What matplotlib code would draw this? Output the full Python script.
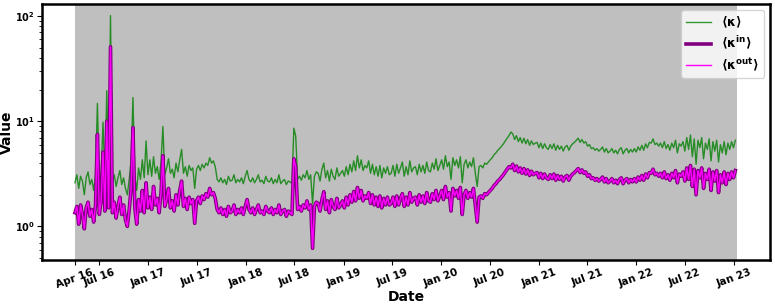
import matplotlib
matplotlib.use('Agg')
import matplotlib.pyplot as plt
import matplotlib.dates as mdates
import pandas as pd

plt.rcParams['font.weight'] = 'bold'
plt.rcParams['mathtext.default'] = 'bf'

start_date = '2016-04-01'

# weekly mean degree <k>
k_all = [
    2.6, 3.1, 2.3, 3.0, 2.7, 2.0, 2.9, 3.3, 2.5, 2.8, 2.2, 3.1, 14.8,
    2.6, 3.2, 9.8, 2.8, 19.5, 2.9, 101.0, 2.7, 3.1, 2.4, 2.9, 3.4, 2.5,
    2.9, 2.3, 2.0, 2.8, 4.2, 16.8, 3.0, 2.2, 3.6, 2.8, 4.3, 2.9, 6.5,
    3.1, 4.3, 3.0, 4.6, 3.2, 3.7, 2.8, 4.1, 8.9, 3.1, 3.6, 4.4, 3.2,
    3.5, 2.9, 4.0, 3.3, 4.3, 5.4, 3.2, 3.7, 3.0, 3.8, 3.4, 3.6, 2.3,
    3.5, 3.8, 3.4, 3.9, 3.6, 4.0, 3.8, 4.5, 4.0, 4.2, 3.7, 2.8, 2.65,
    2.9, 2.6, 2.8, 2.5, 3.0, 2.7, 2.75, 3.1, 2.6, 2.8, 2.65, 2.9, 2.55,
    3.0, 3.4, 2.8, 2.65, 2.9, 2.6, 2.8, 3.1, 2.65, 2.75, 2.55, 3.0, 2.7,
    2.65, 2.9, 2.55, 2.8, 2.6, 3.1, 2.55, 2.7, 2.8, 2.5, 2.7, 2.65, 2.55,
    8.6, 7.2, 2.8, 3.0, 2.75, 3.1, 2.9, 3.4, 2.8, 3.1, 1.65, 3.0, 3.3,
    3.2, 2.7, 3.5, 4.0, 2.9, 3.4, 2.7, 3.5, 3.0, 2.8, 3.6, 3.0, 3.2,
    3.4, 3.0, 3.7, 3.1, 3.9, 3.3, 4.2, 3.4, 4.7, 3.6, 4.3, 3.4, 3.8,
    3.6, 4.2, 3.2, 3.9, 3.1, 3.7, 3.0, 3.8, 2.9, 3.6, 3.2, 3.7, 3.1,
    3.2, 3.8, 3.0, 3.9, 3.2, 3.6, 4.1, 3.0, 3.7, 3.1, 4.2, 3.3, 3.6,
    3.7, 3.1, 3.9, 3.3, 3.8, 3.2, 4.1, 3.4, 3.3, 4.0, 3.5, 4.4, 3.4,
    3.8, 4.3, 3.5, 4.7, 3.7, 4.1, 2.8, 4.5, 3.8, 4.3, 3.6, 4.6, 2.6,
    3.9, 4.3, 3.6, 4.1, 3.7, 4.5, 3.2, 2.4, 3.7, 3.8, 3.6, 4.0, 3.9,
    4.1, 4.3, 4.5, 4.8, 5.0, 5.3, 5.5, 5.8, 6.1, 6.5, 6.9, 7.3, 7.9,
    7.6, 6.7, 7.3, 6.4, 7.0, 6.2, 6.9, 6.1, 6.7, 5.9, 6.5, 6.0, 6.2,
    6.3, 5.6, 6.2, 5.5, 6.1, 5.6, 5.4, 6.0, 5.5, 6.1, 5.3, 5.9, 5.4,
    5.8, 5.2, 5.7, 5.9, 5.3, 5.8, 6.1, 6.3, 6.6, 6.9, 6.3, 6.7, 6.2,
    6.4, 5.8, 6.0, 5.5, 5.6, 5.3, 5.5, 5.2, 5.4, 5.7, 5.1, 5.5, 5.0,
    5.2, 5.5, 5.0, 5.3, 4.9, 5.4, 5.6, 4.9, 5.3, 5.5, 5.0, 5.4, 5.1,
    5.5, 5.1, 5.7, 5.3, 5.9, 5.3, 6.1, 5.6, 6.3, 6.2, 6.8, 6.0, 6.2,
    5.8, 6.2, 5.6, 6.4, 5.5, 6.0, 5.3, 6.2, 5.6, 6.6, 5.0, 6.1, 5.8,
    6.4, 5.2, 7.0, 5.4, 7.4, 4.6, 6.8, 3.9, 6.6, 5.6, 7.0, 4.4, 6.2,
    5.4, 6.8, 4.2, 6.4, 5.2, 6.6, 4.1, 6.0, 5.0, 6.4, 4.8, 6.2, 5.4,
    6.4, 5.6, 6.6,
]

# weekly mean in-degree <k_in>
k_in = [
    1.35, 1.55, 1.05, 1.6, 1.3, 0.95, 1.5, 1.7, 1.25, 1.45, 1.1, 1.6, 7.5,
    1.3, 1.75, 5.1, 1.4, 10.0, 1.5, 51.0, 1.35, 1.7, 1.2, 1.55, 1.9, 1.3,
    1.6, 1.15, 1.0, 1.45, 2.3, 8.7, 1.5, 1.05, 1.8, 1.4, 2.2, 1.35, 2.6,
    1.5, 1.9, 1.45, 2.4, 1.6, 1.85, 1.35, 2.1, 4.7, 1.55, 1.8, 2.3, 1.5,
    1.75, 1.4, 2.0, 1.6, 2.2, 2.7, 1.55, 1.85, 1.45, 1.9, 1.65, 1.8, 1.07,
    1.75, 1.9, 1.65, 1.95, 1.8, 2.05, 1.9, 2.3, 2.0, 2.1, 1.85, 1.45, 1.35,
    1.5, 1.3, 1.45, 1.25, 1.55, 1.35, 1.4, 1.6, 1.3, 1.45, 1.35, 1.5, 1.3,
    1.55, 1.8, 1.45, 1.35, 1.5, 1.3, 1.45, 1.6, 1.35, 1.4, 1.3, 1.55, 1.4,
    1.35, 1.5, 1.3, 1.45, 1.35, 1.6, 1.3, 1.4, 1.45, 1.25, 1.4, 1.35, 1.3,
    4.4, 3.7, 1.45, 1.55, 1.4, 1.6, 1.5, 1.75, 1.45, 1.6, 0.62, 1.55, 1.7,
    1.65, 1.4, 1.8, 2.14, 1.45, 1.75, 1.35, 1.8, 1.55, 1.45, 1.85, 1.5, 1.6,
    1.75, 1.5, 1.9, 1.6, 2.0, 1.7, 2.15, 1.75, 2.35, 1.85, 2.2, 1.75, 1.95,
    1.85, 2.1, 1.65, 2.0, 1.6, 1.9, 1.55, 1.95, 1.5, 1.85, 1.6, 1.9, 1.6,
    1.65, 1.9, 1.55, 1.95, 1.6, 1.85, 2.05, 1.55, 1.9, 1.6, 2.1, 1.7, 1.85,
    1.9, 1.6, 2.0, 1.7, 1.95, 1.65, 2.1, 1.75, 1.7, 2.05, 1.8, 2.2, 1.75,
    1.95, 2.2, 1.8, 2.4, 1.9, 2.1, 1.4, 2.3, 1.95, 2.2, 1.85, 2.35, 1.3,
    2.0, 2.2, 1.85, 2.1, 1.9, 2.3, 1.6, 1.1, 1.9, 1.95, 1.85, 2.05, 2.0,
    2.1, 2.2, 2.3, 2.45, 2.55, 2.7, 2.8, 2.95, 3.1, 3.3, 3.5, 3.7, 3.6,
    3.9, 3.4, 3.75, 3.3, 3.6, 3.2, 3.55, 3.15, 3.45, 3.05, 3.35, 3.1, 3.2,
    3.25, 2.9, 3.2, 2.85, 3.15, 2.9, 2.8, 3.1, 2.85, 3.15, 2.75, 3.05, 2.8,
    3.0, 2.7, 2.95, 3.05, 2.75, 3.0, 3.15, 3.25, 3.4, 3.55, 3.25, 3.45, 3.2,
    3.3, 3.0, 3.1, 2.85, 2.9, 2.75, 2.85, 2.7, 2.8, 2.95, 2.65, 2.85, 2.6,
    2.7, 2.85, 2.6, 2.75, 2.55, 2.8, 2.9, 2.55, 2.75, 2.85, 2.6, 2.8, 2.65,
    2.85, 2.65, 2.95, 2.75, 3.05, 2.75, 3.15, 2.9, 3.25, 3.2, 3.5, 3.1, 3.2,
    3.0, 3.2, 2.9, 3.3, 2.85, 3.1, 2.75, 3.2, 2.9, 3.4, 2.6, 3.15, 3.0,
    3.3, 2.7, 3.6, 2.8, 3.8, 2.4, 3.5, 2.0, 3.4, 2.9, 3.6, 2.3, 3.2,
    2.8, 3.5, 2.2, 3.3, 2.7, 3.4, 2.1, 3.1, 2.6, 3.3, 2.5, 3.2, 2.8,
    3.3, 2.9, 3.4,
]

# out-degree mean coincides with in-degree mean in the picture
k_out = list(k_in)

tick_dates = ['2016-04-01', '2016-07-01', '2017-01-01', '2017-07-01', '2018-01-01',
              '2018-07-01', '2019-01-01', '2019-07-01', '2020-01-01', '2020-07-01',
              '2021-01-01', '2021-07-01', '2022-01-01', '2022-07-01', '2023-01-01']

dates = pd.date_range(start_date, periods=len(k_in), freq='7D')

fig = plt.figure(figsize=(7.75, 3.04), dpi=100)
ax = fig.add_axes([0.054, 0.145, 0.94, 0.842])

ax.axvspan(dates[0], dates[-1] + pd.Timedelta(days=7), color='gray', alpha=0.5, lw=0)
ax.plot(dates, k_all, color='green', alpha=0.8, lw=1.0, label=r'$\langle\kappa\rangle$')
ax.plot(dates, k_in, color='purple', lw=2.6, label=r'$\langle\kappa^{in}\rangle$')
ax.plot(dates, k_out, color='magenta', lw=1.0, label=r'$\langle\kappa^{out}\rangle$')

ax.set_yscale('log')
ax.set_xticks(pd.to_datetime(tick_dates))
ax.xaxis.set_major_formatter(mdates.DateFormatter('%b %y'))
for lab in ax.get_xticklabels():
    lab.set_rotation(20)
    lab.set_fontsize(7.5)
    lab.set_fontweight('bold')
ax.tick_params(axis='y', labelsize=7, pad=1.5)
ax.tick_params(axis='x', pad=2)

for sp in ax.spines.values():
    sp.set_linewidth(1.8)

ax.set_xlabel('Date', fontsize=10, fontweight='bold', labelpad=0)
ax.set_ylabel('Value', fontsize=10, fontweight='bold', labelpad=1)
ax.legend(loc='upper right', fontsize=9, labelspacing=0.35)

fig.savefig('out.png', dpi=100)
